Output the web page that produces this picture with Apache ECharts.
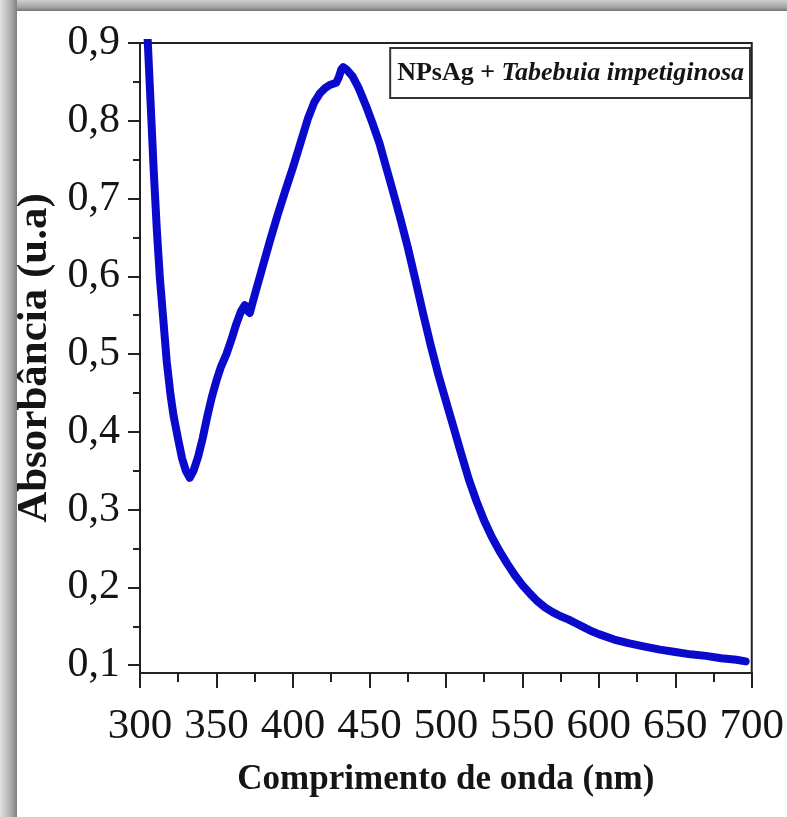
<!DOCTYPE html>
<html>
<head>
<meta charset="utf-8">
<title>Absorbância NPsAg</title>
<script src="https://cdn.jsdelivr.net/npm/echarts@6/dist/echarts.min.js"></script>
<style>
  html, body { margin: 0; padding: 0; background: #fff; }
  #chart { width: 787px; height: 817px; }
</style>
</head>
<body>
<div id="chart"></div>
<script>
// wavelength (nm)
var wavelength = [303, 305, 307, 309, 311, 313, 315, 317.5, 320, 322, 325, 327.5, 330, 332.5, 335, 338, 341, 344, 347, 350,
  353, 356.5, 360, 363, 366, 368.5, 370, 371.8, 375, 380, 385, 390, 395, 400, 405, 410, 414, 417.5,
  421, 424, 428.3, 430, 431.6, 432.8, 435, 439, 443, 448, 452, 456.6, 460, 465, 470, 475, 480, 485, 490, 495,
  500, 505, 510, 515, 520, 525, 530, 535, 540, 545, 550, 555, 560, 565, 570, 575, 580, 585, 590, 595,
  600, 610, 620, 630, 640, 650, 660, 670, 680, 690, 696];
// absorbance (u.a)
var absorbance = [1.00, 0.905, 0.82, 0.735, 0.66, 0.598, 0.55, 0.49, 0.447, 0.42, 0.39, 0.366, 0.35, 0.341, 0.35, 0.368, 0.392, 0.42, 0.445, 0.466,
  0.484, 0.50, 0.52, 0.539, 0.555, 0.563, 0.556, 0.553, 0.576, 0.611, 0.646, 0.679, 0.710, 0.740, 0.772, 0.804, 0.824, 0.835,
  0.842, 0.846, 0.849, 0.856, 0.866, 0.869, 0.866, 0.857, 0.842, 0.818, 0.797, 0.771, 0.747, 0.712, 0.676, 0.638, 0.596, 0.553, 0.512, 0.474,
  0.440, 0.406, 0.372, 0.339, 0.311, 0.286, 0.265, 0.247, 0.231, 0.216, 0.203, 0.192, 0.182, 0.174, 0.168, 0.163, 0.159, 0.154, 0.149, 0.144,
  0.140, 0.133, 0.128, 0.124, 0.120, 0.117, 0.114, 0.112, 0.109, 0.107, 0.105];

var yTicks = [0.1, 0.2, 0.3, 0.4, 0.5, 0.6, 0.7, 0.8, 0.9];
var yMinorTicks = [0.15, 0.25, 0.35, 0.45, 0.55, 0.65, 0.75, 0.85];
var legendBold = 'NPsAg + ';
var legendItalic = 'Tabebuia impetiginosa';

var serif = '"Liberation Serif", "Times New Roman", serif';
var ink = '#151515';

var points = [];
for (var i = 0; i < wavelength.length; i++) {
  points.push([wavelength[i], absorbance[i]]);
}

var chartDom = document.getElementById('chart');
var myChart = echarts.init(chartDom);

var option = {
  backgroundColor: '#fff',
  animation: false,
  graphic: [
    {
      type: 'rect', z: -1,
      shape: { x: 0, y: 0, width: 787, height: 11 },
      style: { fill: new echarts.graphic.LinearGradient(0, 0, 0, 1, [
        { offset: 0, color: '#d0d0d0' }, { offset: 0.7, color: '#a0a0a0' }, { offset: 1, color: '#727272' }]) }
    },
    {
      type: 'rect', z: -1,
      shape: { x: 0, y: 0, width: 17, height: 817 },
      style: { fill: new echarts.graphic.LinearGradient(0, 0, 1, 0, [
        { offset: 0, color: '#e2e2e2' }, { offset: 0.6, color: '#b0b0b0' }, { offset: 1, color: '#808080' }]) }
    }
  ],
  grid: {
    left: 140,
    right: 34,
    top: 43,
    bottom: 144,
    show: true,
    borderColor: '#222',
    borderWidth: 2
  },
  legend: {
    data: [legendBold + legendItalic],
    right: 37,
    top: 48,
    padding: [12, 6, 12, 2],
    icon: 'none',
    itemWidth: 0,
    itemHeight: 0,
    borderColor: '#333',
    borderWidth: 2,
    formatter: function () {
      return '{b|' + legendBold + '}{i|' + legendItalic + '}';
    },
    textStyle: {
      rich: {
        b: { fontFamily: serif, fontWeight: 'bold', fontSize: 26, color: ink },
        i: { fontFamily: serif, fontWeight: 'bold', fontStyle: 'italic', fontSize: 26, color: ink }
      }
    }
  },
  xAxis: {
    type: 'value',
    min: 300,
    max: 700,
    interval: 50,
    name: 'Comprimento de onda (nm)',
    nameLocation: 'middle',
    nameGap: 89,
    nameTextStyle: { fontFamily: serif, fontWeight: 'bold', fontSize: 35, color: ink },
    axisLine: { onZero: false, lineStyle: { color: '#222', width: 2 } },
    axisTick: { inside: false, length: 15, lineStyle: { color: '#222', width: 2 } },
    minorTick: { show: true, splitNumber: 2, length: 9, lineStyle: { color: '#222', width: 2 } },
    axisLabel: { fontFamily: serif, fontSize: 43, color: ink, margin: 32 },
    splitLine: { show: false }
  },
  yAxis: [
    {
      type: 'value',
      min: 0.09,
      max: 0.9,
      name: 'Absorbância (u.a)',
      nameLocation: 'middle',
      nameGap: 84,
      nameTextStyle: { fontFamily: serif, fontWeight: 'bold', fontSize: 43, color: ink },
      axisLine: { show: true, lineStyle: { color: '#222', width: 2 } },
      axisTick: { show: true, length: 12, customValues: yTicks, lineStyle: { color: '#222', width: 2 } },
      axisLabel: {
        fontFamily: serif, fontSize: 42, color: ink, margin: 20,
        customValues: yTicks,
        formatter: function (v) { return v.toFixed(1).replace('.', ','); }
      },
      splitLine: { show: false }
    },
    {
      type: 'value',
      min: 0.09,
      max: 0.9,
      position: 'left',
      axisLine: { show: false },
      axisTick: { show: true, length: 7, customValues: yMinorTicks, lineStyle: { color: '#222', width: 2 } },
      axisLabel: { show: false },
      splitLine: { show: false }
    }
  ],
  series: [
    {
      name: legendBold + legendItalic,
      type: 'line',
      yAxisIndex: 0,
      data: points,
      showSymbol: false,
      clip: true,
      lineStyle: { color: '#0a0acc', width: 8, cap: 'round', join: 'round' },
      itemStyle: { color: '#0a0acc' }
    }
  ]
};

option && myChart.setOption(option);
</script>
</body>
</html>
